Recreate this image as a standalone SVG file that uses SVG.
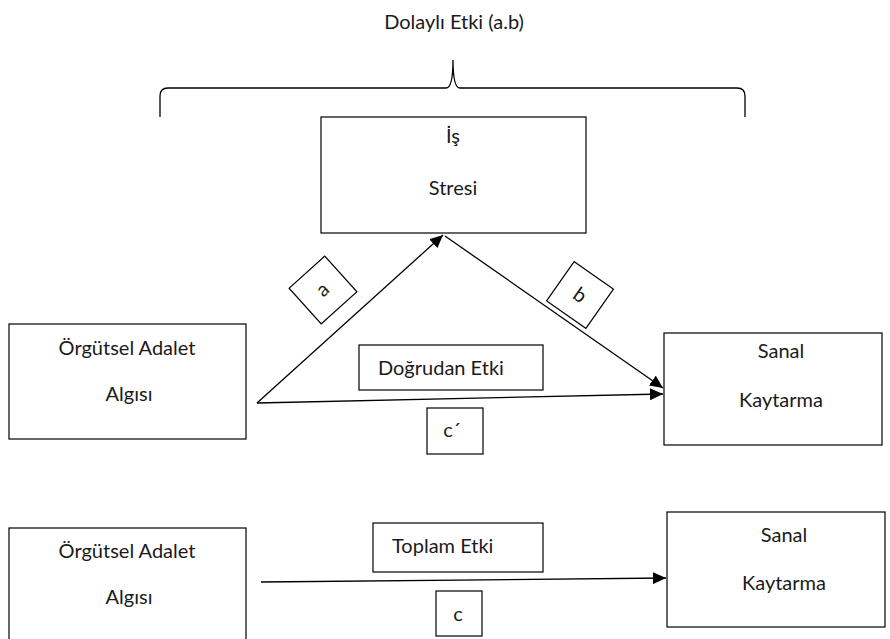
<svg xmlns="http://www.w3.org/2000/svg" width="890" height="639" viewBox="0 0 890 639">
<style>
.box{fill:#fff;stroke:#000;stroke-width:1.2}
.t{font-family:Lato,"Open Sans","Liberation Sans",sans-serif;font-size:20px;fill:#1a1a1a}
.c{text-anchor:middle}
.ln{stroke:#000;stroke-width:1.3;fill:none}
</style>
<defs>
<marker id="ah" markerUnits="userSpaceOnUse" markerWidth="14" markerHeight="12" refX="13" refY="6" orient="auto">
<path d="M0,0 L13,6 L0,12 Z" fill="#000"/>
</marker>
</defs>
<rect width="890" height="639" fill="#fff"/>
<text class="t c" x="454" y="29">Dolaylı Etki (a.b)</text>
<path class="ln" d="M160,117 L160,96 Q160,88 168,88 L446,88 Q453,88 453,60 Q453,88 460,88 L737,88 Q745,88 745,96 L745,117" stroke="#333"/>
<g id="connectors">
<line class="ln" x1="257" y1="403" x2="443" y2="235" marker-end="url(#ah)"/>
<line class="ln" x1="445" y1="236" x2="663" y2="388" marker-end="url(#ah)"/>
<line class="ln" x1="257" y1="403" x2="663" y2="394" marker-end="url(#ah)"/>
<line class="ln" x1="261" y1="582" x2="666" y2="578" marker-end="url(#ah)"/>
</g>
<g id="is-stresi">
<rect class="box" x="321" y="117" width="265" height="116"/>
<text class="t c" x="453" y="143">İş</text>
<text class="t c" x="453" y="195">Stresi</text>
</g>
<g id="orgutsel-adalet-1">
<rect class="box" x="9" y="324" width="237" height="115"/>
<text class="t c" x="127" y="355">Örgütsel Adalet</text>
<text class="t c" x="129" y="401">Algısı</text>
</g>
<g id="sanal-kaytarma-1">
<rect class="box" x="664" y="333" width="218" height="112"/>
<text class="t c" x="781" y="358">Sanal</text>
<text class="t c" x="781" y="407">Kaytarma</text>
</g>
<g id="label-a" transform="translate(323,290) rotate(-42)">
<rect class="box" x="-24" y="-24" width="48" height="48"/>
<text class="t c" x="0" y="6">a</text>
</g>
<g id="label-b" transform="translate(580,295) rotate(35)">
<rect class="box" x="-24" y="-24" width="48" height="48"/>
<text class="t c" x="0" y="7">b</text>
</g>
<g id="dogrudan-etki">
<rect class="box" x="359" y="345" width="184" height="45"/>
<text class="t" x="378" y="375">Doğrudan Etki</text>
</g>
<g id="label-c-prime">
<rect class="box" x="427" y="408" width="56" height="46"/>
<text class="t c" x="452" y="437">c´</text>
</g>
<g id="orgutsel-adalet-2">
<rect class="box" x="9" y="528" width="237" height="115"/>
<text class="t c" x="127" y="558">Örgütsel Adalet</text>
<text class="t c" x="129" y="604">Algısı</text>
</g>
<g id="toplam-etki">
<rect class="box" x="373" y="523" width="170" height="49"/>
<text class="t" x="392" y="553">Toplam Etki</text>
</g>
<g id="label-c">
<rect class="box" x="436" y="591" width="46" height="45"/>
<text class="t c" x="458" y="621">c</text>
</g>
<g id="sanal-kaytarma-2">
<rect class="box" x="667" y="512" width="218" height="115"/>
<text class="t c" x="784" y="542">Sanal</text>
<text class="t c" x="784" y="590">Kaytarma</text>
</g>
</svg>
